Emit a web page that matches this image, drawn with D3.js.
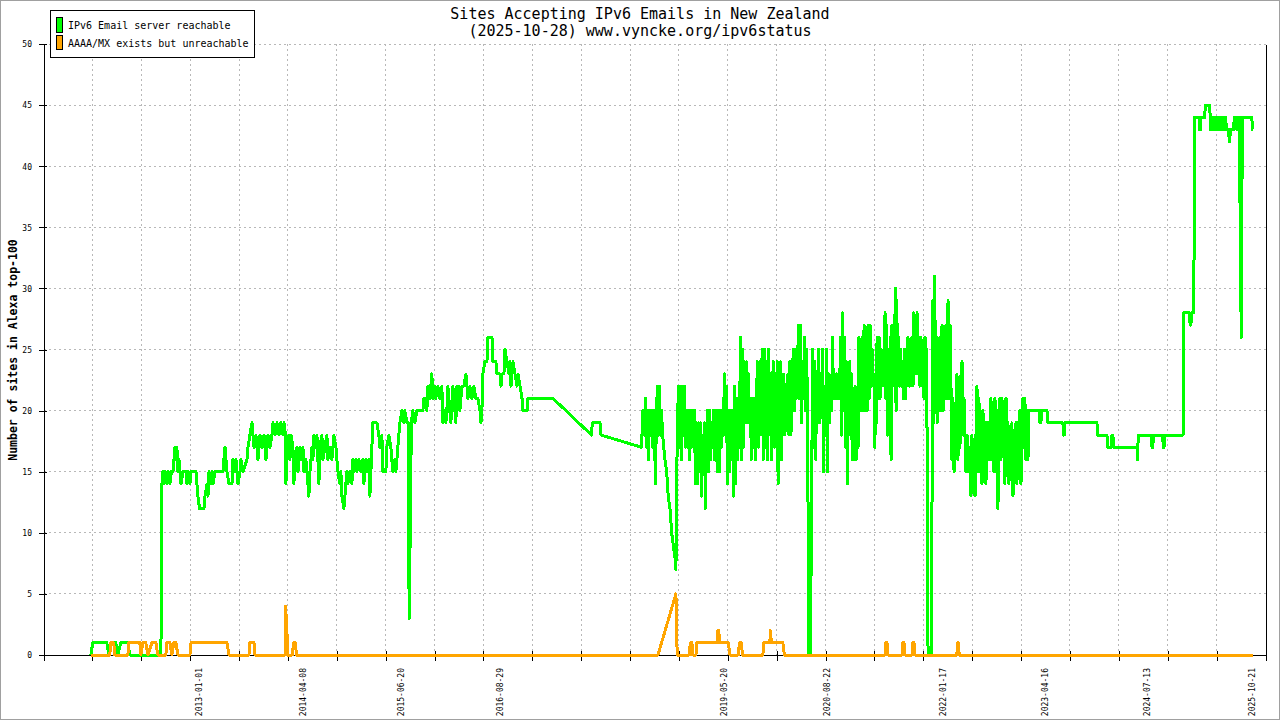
<!DOCTYPE html>
<html><head><meta charset="utf-8">
<script src="https://cdn.jsdelivr.net/npm/d3@7"></script>
<style>html,body{margin:0;padding:0;background:#fff}svg{display:block}</style>
</head><body>
<svg id="chart" width="1280" height="720"></svg>
<script>
// ---------- data ----------
const titleLines = ["Sites Accepting IPv6 Emails in New Zealand", "(2025-10-28) www.vyncke.org/ipv6status"];
const yAxisTitle = "Number of sites in Alexa top-100";
const seriesNames = ["IPv6 Email server reachable", "AAAA/MX exists but unreachable"];
const seriesColors = ["#00ff00", "#ffa500"];
const yTicks = [0, 5, 10, 15, 20, 25, 30, 35, 40, 45, 50];
const xDomain = ["2011-02-14", "2025-12-21"];
const xTickIntervals = 25;
const xLabelDates = ["2013-01-01", "2014-04-08", "2015-06-20", "2016-08-29", "2019-05-20", "2020-08-22", "2022-01-17", "2023-04-16", "2024-07-13", "2025-10-21"];

// dates as decimal years
const greenDates = [
2011.696,2011.720,2011.890,2011.915,2011.951,2012.000,2012.024,2012.061,2012.146,2012.170,
2012.547,2012.559,2012.571,2012.583,2012.601,2012.620,2012.638,2012.656,2012.674,2012.693,
2012.705,2012.717,2012.729,2012.741,2012.753,2012.766,2012.778,2012.790,2012.814,2012.851,
2012.863,2012.875,2012.899,2012.911,2012.972,2012.984,2012.996,2013.015,2013.069,2013.081,
2013.106,2013.118,2013.130,2013.154,2013.167,2013.179,2013.203,2013.300,2013.312,2013.325,
2013.337,2013.349,2013.373,2013.410,2013.422,2013.446,2013.458,2013.483,2013.507,2013.519,
2013.543,2013.592,2013.604,2013.628,2013.653,2013.665,2013.677,2013.701,2013.726,2013.750,
2013.774,2013.799,2013.823,2013.847,2013.871,2013.896,2013.908,2013.932,2013.957,2013.981,
2014.005,2014.029,2014.042,2014.060,2014.066,2014.078,2014.102,2014.115,2014.127,2014.151,
2014.163,2014.175,2014.200,2014.212,2014.236,2014.248,2014.273,2014.285,2014.309,2014.321,
2014.333,2014.345,2014.358,2014.382,2014.394,2014.406,2014.418,2014.443,2014.455,2014.467,
2014.479,2014.503,2014.516,2014.540,2014.564,2014.576,2014.601,2014.625,2014.649,2014.674,
2014.686,2014.698,2014.722,2014.734,2014.747,2014.771,2014.783,2014.807,2014.819,2014.844,
2014.868,2014.880,2014.892,2014.917,2014.929,2014.953,2014.977,2015.002,2015.014,2015.038,
2015.050,2015.075,2015.087,2015.099,2015.123,2015.172,2015.196,2015.208,2015.233,2015.245,
2015.281,2015.293,2015.318,2015.342,2015.354,2015.366,2015.391,2015.403,2015.427,2015.451,
2015.476,2015.500,2015.512,2015.537,2015.555,2015.564,2015.579,2015.591,2015.609,2015.634,
2015.658,2015.731,2015.743,2015.767,2015.780,2015.792,2015.816,2015.828,2015.840,2015.853,
2015.877,2015.889,2015.913,2015.938,2015.962,2015.974,2015.998,2016.011,2016.023,2016.035,
2016.059,2016.071,2016.083,2016.096,2016.120,2016.132,2016.144,2016.169,2016.181,2016.205,
2016.229,2016.254,2016.266,2016.278,2016.302,2016.327,2016.351,2016.375,2016.399,2016.424,
2016.436,2016.448,2016.460,2016.485,2016.509,2016.521,2016.570,2016.582,2016.618,2016.630,
2016.667,2016.679,2016.691,2016.715,2016.728,2016.752,2016.776,2016.788,2016.801,2016.825,
2016.849,2016.873,2016.886,2016.910,2016.934,2016.946,2016.995,2017.007,2017.311,2017.779,
2017.789,2017.882,2017.894,2018.387,2018.405,2018.423,2018.435,2018.447,2018.459,2018.472,
2018.484,2018.496,2018.508,2018.520,2018.532,2018.545,2018.557,2018.569,2018.581,2018.593,
2018.605,2018.617,2018.630,2018.644,2018.672,2018.693,2018.712,2018.733,2018.754,2018.773,
2018.794,2018.806,2018.814,2018.822,2018.836,2018.848,2018.861,2018.873,2018.885,2018.897,
2018.909,2018.921,2018.933,2018.946,2018.958,2018.970,2018.982,2018.994,2019.006,2019.019,
2019.031,2019.043,2019.055,2019.067,2019.079,2019.091,2019.104,2019.116,2019.128,2019.140,
2019.152,2019.164,2019.177,2019.189,2019.201,2019.213,2019.225,2019.237,2019.249,2019.262,
2019.274,2019.286,2019.298,2019.310,2019.322,2019.335,2019.347,2019.359,2019.371,2019.383,
2019.395,2019.407,2019.420,2019.432,2019.444,2019.456,2019.468,2019.480,2019.493,2019.505,
2019.517,2019.529,2019.541,2019.553,2019.565,2019.578,2019.590,2019.602,2019.614,2019.626,
2019.638,2019.651,2019.663,2019.675,2019.687,2019.699,2019.711,2019.723,2019.736,2019.748,
2019.760,2019.772,2019.784,2019.796,2019.809,2019.821,2019.833,2019.845,2019.857,2019.869,
2019.881,2019.894,2019.906,2019.918,2019.930,2019.942,2019.954,2019.967,2019.979,2019.991,
2020.003,2020.015,2020.027,2020.039,2020.048,2020.058,2020.067,2020.078,2020.088,2020.098,
2020.106,2020.118,2020.131,2020.143,2020.155,2020.167,2020.179,2020.191,2020.204,2020.219,
2020.234,2020.246,2020.258,2020.270,2020.282,2020.295,2020.304,2020.319,2020.331,2020.343,
2020.355,2020.368,2020.380,2020.392,2020.404,2020.413,2020.422,2020.441,2020.449,2020.459,
2020.467,2020.477,2020.487,2020.495,2020.505,2020.515,2020.526,2020.538,2020.550,2020.562,
2020.574,2020.586,2020.598,2020.611,2020.623,2020.635,2020.647,2020.659,2020.671,2020.684,
2020.696,2020.708,2020.720,2020.732,2020.744,2020.756,2020.769,2020.781,2020.793,2020.805,
2020.817,2020.829,2020.842,2020.854,2020.866,2020.878,2020.887,2020.896,2020.908,2020.918,
2020.927,2020.936,2020.947,2020.957,2020.969,2020.981,2020.994,2021.006,2021.018,2021.028,
2021.036,2021.046,2021.054,2021.066,2021.079,2021.091,2021.103,2021.115,2021.127,2021.139,
2021.152,2021.164,2021.176,2021.188,2021.200,2021.212,2021.222,2021.230,2021.240,2021.249,
2021.261,2021.273,2021.285,2021.297,2021.309,2021.322,2021.334,2021.346,2021.356,2021.367,
2021.376,2021.388,2021.401,2021.410,2021.419,2021.429,2021.438,2021.449,2021.459,2021.471,
2021.480,2021.489,2021.499,2021.510,2021.522,2021.534,2021.546,2021.559,2021.571,2021.583,
2021.595,2021.605,2021.613,2021.625,2021.638,2021.650,2021.662,2021.674,2021.686,2021.696,
2021.706,2021.715,2021.725,2021.735,2021.747,2021.759,2021.771,2021.783,2021.796,2021.808,
2021.820,2021.832,2021.844,2021.853,2021.860,2021.869,2021.911,2021.921,2021.929,2021.941,
2021.950,2021.960,2021.969,2021.980,2021.990,2022.002,2022.014,2022.027,2022.039,2022.051,
2022.063,2022.075,2022.087,2022.099,2022.112,2022.124,2022.136,2022.148,2022.160,2022.172,
2022.185,2022.197,2022.209,2022.221,2022.233,2022.245,2022.257,2022.270,2022.282,2022.294,
2022.306,2022.318,2022.330,2022.343,2022.355,2022.367,2022.379,2022.391,2022.403,2022.415,
2022.428,2022.440,2022.452,2022.464,2022.476,2022.488,2022.501,2022.513,2022.525,2022.537,
2022.549,2022.561,2022.573,2022.586,2022.598,2022.610,2022.622,2022.634,2022.646,2022.659,
2022.671,2022.683,2022.695,2022.707,2022.719,2022.731,2022.744,2022.756,2022.768,2022.780,
2022.792,2022.804,2022.817,2022.829,2022.841,2022.853,2022.865,2022.877,2022.889,2022.902,
2022.914,2022.926,2022.938,2022.950,2022.962,2022.975,2022.987,2022.999,2023.011,2023.023,
2023.035,2023.047,2023.060,2023.072,2023.084,2023.096,2023.224,2023.230,2023.242,2023.248,
2023.315,2023.327,2023.509,2023.515,2023.525,2023.534,2023.923,2023.929,2024.044,2024.056,
2024.099,2024.105,2024.117,2024.123,2024.409,2024.415,2024.424,2024.585,2024.591,2024.601,
2024.607,2024.721,2024.727,2024.737,2024.743,2024.968,2024.974,2025.047,2025.053,2025.063,
2025.069,2025.099,2025.105,2025.162,2025.168,2025.178,2025.184,2025.231,2025.238,2025.292,
2025.302,2025.314,2025.326,2025.338,2025.351,2025.363,2025.375,2025.387,2025.399,2025.411,
2025.423,2025.436,2025.448,2025.460,2025.472,2025.484,2025.496,2025.515,2025.533,2025.545,
2025.581,2025.591,2025.612,2025.620,2025.633,2025.640,2025.652,2025.661,2025.675,2025.688,
2025.804,2025.810,2025.818];
const greenValues = [
0,1,1,0,1,1,0,1,1,0,
0,14,15,14,15,14,15,14,15,15,
16,17,16,17,15,16,15,14,15,15,
14,15,14,15,15,14,13,12,12,13,
14,13,15,14,15,14,15,15,16,17,
16,15,14,14,16,15,16,14,15,16,
15,16,17,18,19,18,17,18,16,18,
17,18,16,18,17,18,19,18,19,18,
19,18,19,18,14,17,18,16,18,17,
14,16,17,15,17,16,17,15,16,15,
14,13,15,17,16,18,17,18,16,14,
17,18,16,17,18,16,17,16,18,17,
16,15,14,15,13,12,13,15,14,15,
14,16,15,16,15,16,15,16,14,16,
15,16,13,15,19,19,18,17,18,15,
15,17,18,17,16,15,16,15,17,19,
20,19,20,19,19,3,11,19,20,19,
20,20,21,21,20,22,21,22,23,21,
22,21,22,21,22,19,20,19,20,22,
20,19,20,22,20,19,22,22,20,22,
22,23,22,21,22,21,22,21,21,20,
19,20,23,24,24,26,26,24,24,23,
23,22,23,23,25,24,23,24,22,24,
23,22,23,22,21,20,20,21,21,18,
19,19,18,17,20,18,21,17,20,16,
20,18,20,17,20,18,14,20,22,18,
22,18,20,18,16,15,13,12,10,9,
8,7,13,18,22,17,22,16,22,18,
22,17,20,17,20,16,20,17,20,18,
20,14,19,14,19,15,19,13,18,15,
19,12,17,20,15,20,16,19,17,20,
16,20,17,15,20,15,20,17,20,18,
23,18,22,14,20,15,20,16,20,13,
22,14,21,16,21,17,26,16,25,17,
24,19,24,19,23,20,21,16,21,17,
21,16,20,24,17,24,18,23,25,16,
25,17,24,16,25,18,23,16,22,24,
17,23,18,24,14,22,17,24,16,22,
18,23,18,21,19,23,18,24,18,23,
25,20,25,21,23,27,21,27,19,24,
21,26,20,25,21,10,0,0,8,17,
25,17,22,24,16,23,19,25,19,23,
20,25,15,22,18,25,15,23,19,22,
20,26,21,23,21,23,21,22,21,26,
18,28,20,26,17,24,14,19,18,24,
18,23,16,20,16,22,16,21,17,26,
20,24,20,26,20,27,20,25,20,27,
21,27,22,25,22,23,17,21,19,26,
21,26,21,25,22,24,22,28,21,27,
18,25,20,26,16,27,22,26,23,30,
20,29,22,26,22,25,22,24,21,25,
21,24,22,26,22,25,22,26,22,28,
23,27,23,28,23,26,22,26,22,25,
21,26,21,25,12,0,0,20,29,19,
31,21,26,19,25,20,26,20,27,20,
26,21,27,21,29,21,27,22,16,21,
15,20,17,23,16,22,17,23,24,18,
21,18,15,18,15,17,16,13,18,14,
17,13,18,22,15,21,15,19,14,20,
15,19,14,19,16,19,16,21,16,20,
15,21,15,20,12,19,21,16,21,17,
20,14,21,15,19,14,18,16,19,13,
18,16,19,14,19,15,20,14,18,21,
17,21,16,20,16,20,20,19,19,20,
20,19,19,18,18,19,19,18,18,17,
17,18,18,17,17,16,18,18,17,17,
18,18,17,17,18,18,28,28,27,27,
28,28,44,44,43,43,44,44,45,45,
43,44,43,44,43,44,43,44,43,44,
43,44,43,44,43,44,43,43,42,43,
43,44,44,43,43,44,44,36,26,44,
44,43,43];

const orangeDates = [
2011.696,2011.927,2011.939,2011.975,2011.988,2012.146,2012.158,2012.291,2012.304,2012.328,
2012.364,2012.389,2012.437,2012.486,2012.510,2012.607,2012.620,2012.656,2012.680,2012.705,
2012.729,2012.753,2012.899,2012.911,2013.349,2013.373,2013.616,2013.628,2013.677,2013.689,
2014.057,2014.062,2014.078,2014.085,2014.145,2014.157,2014.181,2014.193,2018.587,2018.806,
2018.813,2018.822,2018.970,2018.980,2019.000,2019.010,2019.049,2019.061,2019.310,2019.316,
2019.328,2019.334,2019.444,2019.462,2019.565,2019.578,2019.602,2019.614,2019.863,2019.875,
2019.948,2019.954,2019.967,2020.106,2020.124,2021.346,2021.354,2021.370,2021.379,2021.553,
2021.561,2021.577,2021.585,2021.674,2021.683,2021.698,2021.707,2022.219,2022.227,2022.239,
2022.248,2025.818];
const orangeValues = [
0,0,1,1,0,0,1,1,0,1,
1,0,1,1,0,0,1,1,0,1,
1,0,0,1,1,0,0,1,1,0,
0,4,2,0,0,1,1,0,0,5,
2,0,0,1,1,0,0,1,1,2,
2,1,1,0,0,1,1,0,0,1,
1,2,1,1,0,0,1,1,0,0,
1,1,0,0,1,1,0,0,1,1,
0,0];

// ---------- helpers ----------
const parseDay = d3.utcParse("%Y-%m-%d");
function yearToDate(y) {
  const yr = Math.floor(y);
  const a = Date.UTC(yr, 0, 1), b = Date.UTC(yr + 1, 0, 1);
  return new Date(a + (y - yr) * (b - a));
}
function series(dates, values) {
  const n = Math.min(dates.length, values.length);
  return d3.range(n).map(i => ({date: yearToDate(dates[i]), v: values[i]}));
}

const FONT = "'DejaVu Sans Mono', 'Liberation Mono', monospace";
const W = 1280, H = 720;
const plot = {left: 43.5, right: 1265.5, top: 44, bottom: 655};

const svg = d3.select("#chart");
svg.append("rect").attr("x", 0.5).attr("y", 0.5).attr("width", W - 1).attr("height", H - 1)
  .attr("fill", "#fff").attr("stroke", "#a0a0a0");

const x = d3.scaleUtc().domain(xDomain.map(parseDay)).range([plot.left, plot.right]);
const y = d3.scaleLinear().domain([0, 50]).range([plot.bottom, plot.top]);

const [t0, t1] = x.domain();
const xTickDates = d3.range(xTickIntervals + 1).map(i => new Date(+t0 + i * (t1 - t0) / xTickIntervals));

// grid
const grid = svg.append("g").attr("stroke", "#b8b8b8").attr("stroke-width", 1)
  .attr("stroke-dasharray", "2,3").attr("shape-rendering", "crispEdges");
grid.selectAll("line.v").data(xTickDates.slice(1, -1)).join("line").attr("class", "v")
  .attr("x1", d => x(d)).attr("x2", d => x(d)).attr("y1", plot.top).attr("y2", plot.bottom);
grid.selectAll("line.h").data(yTicks.filter(d => d > 0)).join("line").attr("class", "h")
  .attr("x1", plot.left).attr("x2", plot.right).attr("y1", d => y(d)).attr("y2", d => y(d));

// y axis
const gy = svg.append("g").attr("transform", `translate(${plot.left},0)`)
  .call(d3.axisLeft(y).tickValues(yTicks).tickSizeInner(5).tickSizeOuter(0).tickPadding(6.5));
gy.attr("font-family", FONT).attr("font-size", 8).attr("shape-rendering", "crispEdges");
gy.selectAll(".tick line").attr("x1", 3).attr("stroke", "#000");
gy.selectAll(".tick text").attr("fill", "#000").attr("dy", "0.35em");
gy.select(".domain").attr("stroke", "#000");

// right border
svg.append("g").attr("transform", `translate(${plot.right},0)`)
  .call(d3.axisRight(y).tickValues([]).tickSizeOuter(0))
  .attr("shape-rendering", "crispEdges").select(".domain").attr("stroke", "#000");

// x axis ticks (unlabelled)
const gx = svg.append("g").attr("transform", `translate(0,${plot.bottom})`)
  .call(d3.axisBottom(x).tickValues(xTickDates).tickSizeInner(6).tickSizeOuter(0).tickFormat(""));
gx.attr("shape-rendering", "crispEdges");
gx.selectAll(".tick line").attr("y1", -4).attr("stroke", "#000");
gx.select(".domain").attr("stroke", "#000");

// x date labels
const gl = svg.append("g").attr("transform", `translate(0,${plot.bottom})`)
  .call(d3.axisBottom(x).tickValues(xLabelDates.map(parseDay)).tickSize(0).tickFormat(d3.utcFormat("%Y-%m-%d")));
gl.attr("font-family", FONT).attr("font-size", 8);
gl.select(".domain").remove();
gl.selectAll(".tick text").attr("fill", "#000").attr("transform", "rotate(-90)")
  .attr("text-anchor", "end").attr("x", -13).attr("y", 0).attr("dy", "0.35em");

// lines
const line = d3.line().x(d => x(d.date)).y(d => y(d.v));
const dataSets = [series(greenDates, greenValues), series(orangeDates, orangeValues)];
svg.append("g").selectAll("path").data(dataSets).join("path")
  .attr("d", line).attr("fill", "none")
  .attr("stroke", (d, i) => seriesColors[i]).attr("stroke-width", 3)
  .attr("stroke-linejoin", "round").attr("stroke-linecap", "butt")
  .attr("shape-rendering", "crispEdges");

// title
svg.append("g").attr("font-family", FONT).attr("font-size", 15).attr("text-anchor", "middle")
  .selectAll("text").data(titleLines).join("text")
  .attr("x", 640).attr("y", (d, i) => 18.5 + i * 17.5).attr("fill", "#000").text(d => d);

// y axis title
svg.append("text").attr("transform", "translate(12.5,350) rotate(-90)")
  .attr("text-anchor", "middle").attr("dy", "0.35em")
  .attr("font-family", FONT).attr("font-size", 11.5).attr("font-weight", "bold")
  .attr("fill", "#000").text(yAxisTitle);

// legend
const lg = svg.append("g");
lg.append("rect").attr("x", 50.5).attr("y", 10.5).attr("width", 204).attr("height", 47)
  .attr("fill", "#fff").attr("stroke", "#000").attr("shape-rendering", "crispEdges");
const items = lg.selectAll("g.item").data(seriesNames).join("g").attr("class", "item")
  .attr("transform", (d, i) => `translate(0,${i * 17.5})`);
items.append("rect").attr("x", 56.5).attr("y", 17.5).attr("width", 5.5).attr("height", 14.5)
  .attr("fill", (d, i) => seriesColors[i]).attr("stroke", "#000").attr("shape-rendering", "crispEdges");
items.append("text").attr("x", 68).attr("y", 29).attr("font-family", FONT).attr("font-size", 10)
  .attr("fill", "#000").text(d => d);
</script>
</body></html>
